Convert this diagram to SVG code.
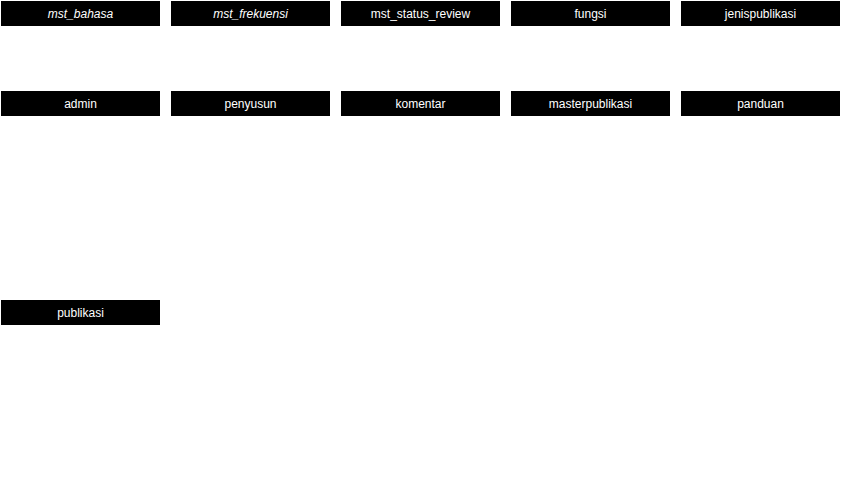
<svg xmlns="http://www.w3.org/2000/svg" width="842" height="490" viewBox="0 0 842 490">
<style>
.box{fill:#000;}
.lbl{font-family:"Liberation Sans",Arial,sans-serif;font-size:12px;fill:#fff;text-anchor:middle;}
.it{font-style:italic;}
</style>
<rect width="842" height="490" fill="#fff"/>
<g id="mst_bahasa"><rect class="box" x="1" y="1" width="159" height="25"/><text class="lbl it" x="80.5" y="18">mst_bahasa</text></g>
<g id="mst_frekuensi"><rect class="box" x="171" y="1" width="159" height="25"/><text class="lbl it" x="250.5" y="18">mst_frekuensi</text></g>
<g id="mst_status_review"><rect class="box" x="341" y="1" width="159" height="25"/><text class="lbl" x="420.5" y="18">mst_status_review</text></g>
<g id="fungsi"><rect class="box" x="511" y="1" width="159" height="25"/><text class="lbl" x="590.5" y="18">fungsi</text></g>
<g id="jenispublikasi"><rect class="box" x="681" y="1" width="159" height="25"/><text class="lbl" x="760.5" y="18">jenispublikasi</text></g>
<g id="admin"><rect class="box" x="1" y="91" width="159" height="25"/><text class="lbl" x="80.5" y="108">admin</text></g>
<g id="penyusun"><rect class="box" x="171" y="91" width="159" height="25"/><text class="lbl" x="250.5" y="108">penyusun</text></g>
<g id="komentar"><rect class="box" x="341" y="91" width="159" height="25"/><text class="lbl" x="420.5" y="108">komentar</text></g>
<g id="masterpublikasi"><rect class="box" x="511" y="91" width="159" height="25"/><text class="lbl" x="590.5" y="108">masterpublikasi</text></g>
<g id="panduan"><rect class="box" x="681" y="91" width="159" height="25"/><text class="lbl" x="760.5" y="108">panduan</text></g>
<g id="publikasi"><rect class="box" x="1" y="300" width="159" height="25"/><text class="lbl" x="80.5" y="317">publikasi</text></g>
<g id="connectors"></g>
</svg>
